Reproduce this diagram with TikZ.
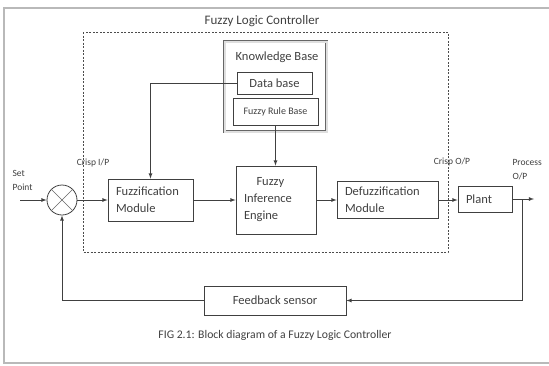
\documentclass[tikz,border=0pt]{standalone}
\usepackage{fontspec}
\setmainfont{Carlito}
\usepackage{tikz}

\tikzset{
  blockbox/.style={draw=black!75, line width=0.8pt, align=left, inner xsep=8pt, text=black!75,
    font=\fontsize{12.5}{17}\selectfont},
  smalltxt/.style={font=\fontsize{9.5}{14}\selectfont, text=black!75}
}

\begin{document}
\begin{tikzpicture}[x=1pt,y=-1pt,>=latex]
\useasboundingbox (0,0) rectangle (549,365);
% outer frame
\draw[gray!55, line width=1.4pt] (549,8) -- (4,8) -- (4,363) -- (549,363);

% controller (dashed)
\draw[black!70, line width=0.8pt, dash pattern=on 2pt off 1.5pt] (83,32) rectangle (448,252);
\node[font=\fontsize{13}{15}\selectfont, text=black!75] (flc) at (262,21) {Fuzzy Logic Controller};

% knowledge base
\node[draw=black!60, double=gray!25, double distance=2pt, line width=0.7pt,
  minimum width=102pt, minimum height=90pt] (kb) at (275.5,86.5) {};
\node[font=\fontsize{12.5}{15}\selectfont, text=black!75] (kbt) at (277,57) {Knowledge Base};
\node[blockbox, align=center, inner xsep=2pt, minimum width=75pt, minimum height=22pt] (db) at (274.5,83) {Data base};
\node[blockbox, align=center, inner xsep=2pt, minimum width=85pt, minimum height=27pt,
  font=\fontsize{10}{12}\selectfont] (frb) at (275.5,111.5) {Fuzzy Rule Base};

% blocks
\node[draw=black!75, line width=0.8pt, circle, minimum size=30pt, inner sep=0pt] (sum) at (62,200) {};
\draw[black!60] (sum.north west) -- (sum.south east);
\draw[black!60] (sum.north east) -- (sum.south west);
\node[blockbox, text width=69pt, minimum height=42pt] (fuzz) at (150.5,200) {Fuzzification\\Module};
\node[blockbox, text width=64pt, minimum height=68pt] (fie) at (276,200) {\quad Fuzzy\\Inference\\Engine};
\node[blockbox, text width=85pt, minimum height=37pt] (defuzz) at (387.5,200) {Defuzzification\\Module};
\node[blockbox, text width=38pt, minimum height=26pt] (plant) at (485,199) {Plant};
\node[blockbox, align=center, minimum width=142pt, minimum height=29pt] (fb) at (275,300.5) {Feedback sensor};

% labels
\node[smalltxt, align=left, anchor=west] (sp) at (9,180) {Set\\Point};
\node[smalltxt] (cin) at (93,163) {Crisp I/P};
\node[smalltxt] (cout) at (452,162) {Crisp O/P};
\node[smalltxt, align=left, anchor=west] (pout) at (509,170) {Process\\O/P};
\node[font=\fontsize{11.7}{14}\selectfont, text=black!75] (cap) at (275,335) {FIG 2.1: Block diagram of a Fuzzy Logic Controller};

% signal path
\coordinate (in) at (20,200);
\coordinate (po) at (522,199);
\coordinate (out) at (534,199);
\draw[->, black!75, line width=0.8pt] (in) -- (sum.west);
\draw[->, black!75, line width=0.8pt] (sum.east) -- (fuzz.west);
\draw[->, black!75, line width=0.8pt] (fuzz.east) -- (fie.west);
\draw[->, black!75, line width=0.8pt] (fie.east) -- (defuzz.west);
\draw[->, black!75, line width=0.8pt] (defuzz.east) -- (defuzz.east -| plant.west);
\draw[->, black!75, line width=0.8pt] (plant.east) -- (out);

% knowledge links
\draw[->, black!75, line width=0.8pt] (db.west) -| (fuzz.north);
\draw[->, black!75, line width=0.8pt] (frb.south) -- (frb.south |- fie.north);

% feedback
\draw[->, black!75, line width=0.8pt] (po) |- (fb.east);
\draw[->, black!75, line width=0.8pt] (fb.west) -| (sum.south);
\end{tikzpicture}
\end{document}
